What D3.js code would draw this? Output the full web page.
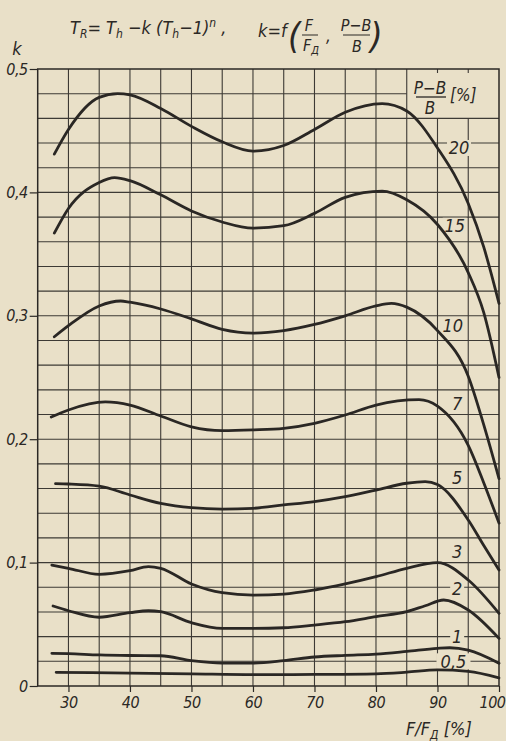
<!DOCTYPE html>
<html>
<head>
<meta charset="utf-8">
<script src="https://cdn.jsdelivr.net/npm/d3@7"></script>
<style>
  body { margin: 0; background: #e9e0c8; }
  svg { display: block; }
  text { font-family: "Liberation Sans Narrow", "DejaVu Sans Condensed", "Roboto Condensed", sans-serif; font-style: italic; fill: #2b2825; }
</style>
</head>
<body>
<svg id="chart" width="506" height="741"></svg>
<script>
// ratio (P-B)/B [%] for every curve
var ratios = ["20", "15", "10", "7", "5", "3", "2", "1", "0,5"];

// [F/FD %, k]
var k20 = [[27.7,0.431],[30,0.451],[35,0.477],[38,0.480],[40,0.479],[45,0.468],[50,0.4535],[55,0.441],[60,0.4335],[65,0.438],[70,0.451],[75,0.465],[81,0.472],[85,0.466],[90,0.436],[95,0.391],[97.5,0.356],[100,0.31]];
var k15 = [[27.7,0.367],[30,0.387],[35,0.408],[37.5,0.412],[40,0.4095],[45,0.398],[50,0.385],[55,0.376],[60,0.371],[65,0.373],[70,0.383],[75,0.396],[81,0.401],[85,0.394],[90,0.374],[95,0.335],[97.5,0.303],[100,0.25]];
var k10 = [[27.7,0.283],[30,0.292],[35,0.308],[38.5,0.312],[40,0.311],[45,0.3055],[50,0.2975],[55,0.289],[60,0.286],[65,0.288],[70,0.293],[75,0.300],[80,0.308],[82.5,0.310],[85,0.307],[90,0.288],[95,0.251],[97.5,0.212],[100,0.168]];
var k7 = [[27.2,0.218],[30,0.2237],[36,0.2302],[40,0.2277],[45,0.2188],[50,0.210],[55,0.2069],[60,0.2075],[65,0.2088],[70,0.2129],[75,0.2196],[80,0.2277],[87,0.232],[90,0.2268],[95,0.195],[97.5,0.165],[100,0.132]];
var k5 = [[27.9,0.164],[30,0.1637],[35,0.162],[40,0.1548],[45,0.148],[50,0.1445],[55,0.1434],[60,0.144],[65,0.1467],[70,0.1494],[75,0.1534],[80,0.1588],[85,0.1643],[88,0.1656],[90,0.1632],[95,0.1345],[97.5,0.114],[100,0.094]];
var k3 = [[27.3,0.098],[30,0.0954],[35,0.0905],[40,0.0934],[43,0.0967],[45,0.0954],[50,0.0827],[55,0.0756],[60,0.0737],[65,0.0745],[70,0.0778],[75,0.0827],[80,0.0886],[85,0.0954],[90,0.0999],[95,0.0859],[100,0.0589]];
var k2 = [[27.5,0.0648],[30,0.061],[35,0.0557],[40,0.0594],[43,0.061],[45,0.0602],[50,0.0513],[55,0.0467],[60,0.0467],[65,0.0472],[70,0.0494],[75,0.0521],[80,0.0562],[85,0.0602],[88,0.065],[91,0.0697],[95,0.0616],[100,0.0386]];
var k1 = [[27.3,0.0265],[30,0.0262],[35,0.0252],[40,0.0247],[45,0.0245],[50,0.0205],[55,0.0185],[60,0.0185],[65,0.0205],[70,0.0235],[75,0.0248],[80,0.0258],[85,0.028],[90,0.0305],[92,0.031],[95,0.029],[100,0.0184]];
var k05 = [[28,0.0111],[40,0.0104],[50,0.0098],[60,0.0092],[70,0.0094],[80,0.0099],[85,0.0112],[90,0.013],[95,0.0118],[100,0.0065]];
var curves = [k20, k15, k10, k7, k5, k3, k2, k1, k05];

// where the ratio labels sit, [F/FD %, k]
var labelAt = [[93.5,0.436],[92.8,0.373],[92.5,0.292],[93.2,0.229],[93.2,0.169],[93.2,0.1086],[93.2,0.0786],[93.2,0.0405],[92.6,0.020]];

var xTicks = [30, 40, 50, 60, 70, 80, 90, 100];
var yTicks = [0, 0.1, 0.2, 0.3, 0.4, 0.5];
var yTickLabels = ["0", "0,1", "0,2", "0,3", "0,4", "0,5"];

var ink = "#2b2825", paper = "#e9e0c8";

var x = d3.scaleLinear().domain([25, 100]).range([37.7, 499]);
var y = d3.scaleLinear().domain([0, 0.5]).range([686, 69]);

var svg = d3.select("#chart");
svg.append("rect").attr("width", 506).attr("height", 741).attr("fill", paper);

// grid, 5 % by 0.02
var grid = svg.append("g").attr("stroke", "#3d3a35").attr("stroke-width", 1.1);
grid.selectAll("line.v")
    .data(d3.range(30, 100, 5))
  .enter().append("line")
    .attr("x1", function(d) { return x(d); })
    .attr("x2", function(d) { return x(d); })
    .attr("y1", function(d) { return d >= 90 ? y(0.46) : y(0.5); })
    .attr("y2", y(0));
grid.selectAll("line.h")
    .data(d3.range(1, 25).map(function(i) { return i * 0.02; }))
  .enter().append("line")
    .attr("x1", x(25))
    .attr("x2", function(d) { return d > 0.47 ? x(85) : x(100); })
    .attr("y1", function(d) { return y(d); })
    .attr("y2", function(d) { return y(d); });
// little marks at the top of the label box
[90, 95].forEach(function(v) {
  grid.append("line").attr("x1", x(v)).attr("x2", x(v)).attr("y1", y(0.5)).attr("y2", y(0.5) + 4);
});

svg.append("rect")
    .attr("x", x(25)).attr("y", y(0.5))
    .attr("width", x(100) - x(25)).attr("height", y(0) - y(0.5))
    .attr("fill", "none").attr("stroke", ink).attr("stroke-width", 1.5);

// axes
var xAxis = svg.append("g")
    .attr("transform", "translate(0," + y(0) + ")")
    .call(d3.axisBottom(x).tickValues(xTicks).tickSize(6).tickPadding(5)
      .tickFormat(function(d) { return d; }));
var yAxis = svg.append("g")
    .attr("transform", "translate(" + x(25) + ",0)")
    .call(d3.axisLeft(y).tickValues(yTicks).tickSize(8).tickPadding(2)
      .tickFormat(function(d, i) { return yTickLabels[i]; }));
[xAxis, yAxis].forEach(function(a) {
  a.select(".domain").remove();
  a.selectAll("line").attr("stroke", ink).attr("stroke-width", 1.2);
  a.selectAll("text").attr("fill", ink).style("font-size", "16px")
    .style("letter-spacing", "-0.5px").style("font-family", null);
});
xAxis.selectAll("text").filter(function(d) { return d === 100; })
    .attr("text-anchor", "end").attr("dx", "6");

// label backgrounds break the grid, curves go over them
var labels = svg.append("g").selectAll("g")
    .data(ratios)
  .enter().append("g")
    .attr("transform", function(d, i) { return "translate(" + x(labelAt[i][0]) + "," + y(labelAt[i][1]) + ")"; });
labels.append("rect")
    .attr("x", function(d) { return -d.length * 5 - 2; })
    .attr("y", -8)
    .attr("width", function(d) { return d.length * 10 + 4; })
    .attr("height", 16)
    .attr("fill", paper);

// curves
var line = d3.line()
    .x(function(d) { return x(d[0]); })
    .y(function(d) { return y(d[1]); })
    .curve(d3.curveMonotoneX);

svg.append("g").selectAll("path")
    .data(curves)
  .enter().append("path")
    .attr("d", line)
    .attr("fill", "none")
    .attr("stroke", "#2a2724")
    .attr("stroke-width", 2.8)
    .attr("stroke-linecap", "round");

labels.append("text")
    .attr("text-anchor", "middle")
    .attr("dy", "0.36em")
    .style("font-size", "18px")
    .text(function(d) { return d; });
labels.raise();

// label box: (P-B)/B [%]
svg.append("text").attr("x", 430).attr("y", 94).attr("text-anchor", "middle")
    .style("font-size", "17px").text("P−B");
svg.append("line").attr("x1", 416).attr("x2", 446).attr("y1", 97).attr("y2", 97)
    .attr("stroke", ink).attr("stroke-width", 1.3);
svg.append("text").attr("x", 430).attr("y", 114).attr("text-anchor", "middle")
    .style("font-size", "17px").text("B");
svg.append("text").attr("x", 450).attr("y", 101)
    .style("font-size", "17px").text("[%]");

// axis names
svg.append("text").attr("x", 17).attr("y", 55).attr("text-anchor", "middle")
    .style("font-size", "18px").text("k");
var xt = svg.append("text").attr("x", 406).attr("y", 735).style("font-size", "18px");
xt.append("tspan").text("F/F");
xt.append("tspan").attr("dy", 4).style("font-size", "12px").text("Д");
xt.append("tspan").attr("dy", -4).text(" [%]");

// formula
var f1 = svg.append("text").attr("x", 70).attr("y", 34).style("font-size", "18px");
f1.append("tspan").text("T");
f1.append("tspan").attr("dy", 4).style("font-size", "12px").text("R");
f1.append("tspan").attr("dy", -4).text("= T");
f1.append("tspan").attr("dy", 4).style("font-size", "12px").text("h");
f1.append("tspan").attr("dy", -4).text(" −k (T");
f1.append("tspan").attr("dy", 4).style("font-size", "12px").text("h");
f1.append("tspan").attr("dy", -4).text("−1)");
f1.append("tspan").attr("dy", -7).style("font-size", "12px").text("n");
f1.append("tspan").attr("dy", 7).text(" ,");

svg.append("text").attr("x", 258).attr("y", 37).style("font-size", "18px").text("k=f");
svg.append("text").attr("x", 288).attr("y", 48).style("font-size", "36px").style("font-weight", "300").text("(");
svg.append("text").attr("x", 309).attr("y", 31).attr("text-anchor", "middle").style("font-size", "16px").text("F");
svg.append("line").attr("x1", 302).attr("x2", 318).attr("y1", 35).attr("y2", 35).attr("stroke", ink).attr("stroke-width", 1);
var fd = svg.append("text").attr("x", 303).attr("y", 51).style("font-size", "16px");
fd.append("tspan").text("F");
fd.append("tspan").attr("dy", 3).style("font-size", "11px").text("Д");
svg.append("text").attr("x", 326).attr("y", 42).style("font-size", "17px").text(",");
svg.append("text").attr("x", 356).attr("y", 31).attr("text-anchor", "middle").style("font-size", "16px").text("P−B");
svg.append("line").attr("x1", 343).attr("x2", 370).attr("y1", 35).attr("y2", 35).attr("stroke", ink).attr("stroke-width", 1);
svg.append("text").attr("x", 357).attr("y", 52).attr("text-anchor", "middle").style("font-size", "16px").text("B");
svg.append("text").attr("x", 370).attr("y", 48).style("font-size", "36px").style("font-weight", "300").text(")");
</script>
</body>
</html>
